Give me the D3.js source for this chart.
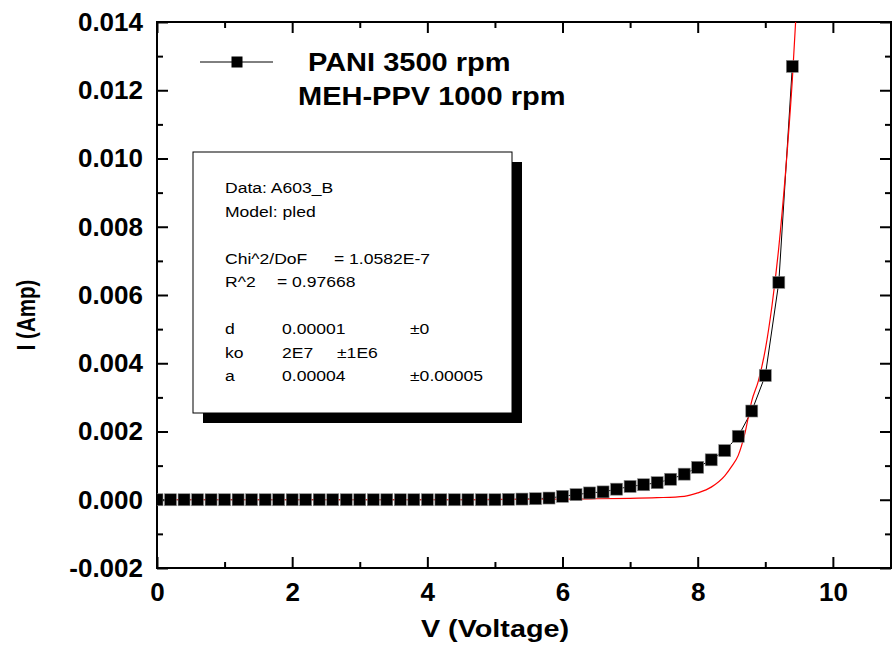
<!DOCTYPE html>
<html>
<head>
<meta charset="utf-8">
<script src="https://cdn.jsdelivr.net/npm/d3@7/dist/d3.min.js"></script>
<style>
  body { margin: 0; background: #fff; }
  svg { display: block; font-family: "Liberation Sans", Arial, sans-serif; }
</style>
</head>
<body>
<svg id="canvas" width="893" height="649"></svg>
<script>
// measured points (V, I)
const voltage = [0, 0.2, 0.4, 0.6, 0.8, 1.0, 1.2, 1.4, 1.6, 1.8, 2.0, 2.2, 2.4, 2.6, 2.8, 3.0,
  3.2, 3.4, 3.6, 3.8, 4.0, 4.2, 4.4, 4.6, 4.8, 5.0, 5.2, 5.4, 5.6, 5.8, 6.0, 6.2, 6.4, 6.6,
  6.8, 7.0, 7.2, 7.4, 7.6, 7.8, 8.0, 8.2, 8.4, 8.6, 8.8, 9.0, 9.2, 9.4];
const current = [0, 0, 0, 0, 0, 0, 0, 0, 0, 0, 0, 0, 0, 0, 0, 0,
  0, 0, 0, 0, 0, 0, 0, 0, 0, 0, 0.00001, 0.00002, 0.00003, 0.00005, 0.0001, 0.00015, 0.0002, 0.00023,
  0.00031, 0.00039, 0.00044, 0.0005, 0.0006, 0.00075, 0.00095, 0.00117, 0.00144, 0.00186, 0.0026, 0.00364, 0.00637, 0.0127];

// fitted curve (pled model)
const fitV = [0.2, 1, 2, 3, 4, 5, 6, 6.5, 7, 7.4, 7.8, 8.0, 8.2, 8.4, 8.5, 8.6, 8.7, 8.8, 8.9, 9.0, 9.1, 9.2, 9.3, 9.4, 9.5];
const fitI = [0, 0, 0, 0, 0, 0.00001, 0.00002, 0.00003, 0.00004, 0.00006, 0.0001, 0.0002, 0.00037, 0.0007, 0.00097, 0.0013, 0.00196, 0.0029, 0.0035, 0.0044, 0.0057, 0.0074, 0.0096, 0.0123, 0.0158];

const xMajor = [0, 2, 4, 6, 8, 10];
const xMinor = [1, 3, 5, 7, 9];
const yMajor = [-0.002, 0, 0.002, 0.004, 0.006, 0.008, 0.010, 0.012, 0.014];
const yMinor = [-0.001, 0.001, 0.003, 0.005, 0.007, 0.009, 0.011, 0.013];

const legendLines = ['PANI 3500 rpm', 'MEH-PPV 1000 rpm'];
const fitInfo = [
  ['Data: A603_B'],
  ['Model: pled'],
  [],
  ['Chi^2/DoF', '= 1.0582E-7'],
  ['R^2', '=  0.97668'],
  [],
  ['d', '0.00001', '±0'],
  ['ko', '2E7', '±1E6'],
  ['a', '0.00004', '±0.00005']
];

const svg = d3.select('#canvas');
const L = 157, R = 891, T = 22, B = 568;

const x = d3.scaleLinear().domain([0, 10.86]).range([L, R]);
const y = d3.scaleLinear().domain([-0.002, 0.014]).range([B, T]);

svg.append('defs').append('clipPath').attr('id', 'plotclip')
  .append('rect').attr('x', L).attr('y', T).attr('width', R - L).attr('height', B - T);

// stretched text helper (the original fonts are a bit wider than Arial)
let label = (g, px, py, txt, size, weight, sx, anchor, rot) => {
  return g.append('text')
    .attr('transform', `translate(${px},${py})` + (rot ? ` rotate(${rot})` : '') + ` scale(${sx},1)`)
    .attr('text-anchor', anchor || 'start')
    .attr('font-size', size)
    .attr('font-weight', weight)
    .attr('fill', '#000')
    .text(txt);
};

// axes: major + minor ticks, inward
let styleAxis = (g) => {
  g.select('.domain').remove();
  g.selectAll('line').attr('stroke', '#000').attr('stroke-width', 2);
};

svg.append('g').attr('transform', `translate(0,${B})`)
  .call(d3.axisBottom(x).tickValues(xMajor).tickSize(-11).tickPadding(15).tickFormat(d3.format('d')))
  .call(styleAxis)
  .selectAll('text').attr('font-size', 26).attr('font-weight', 'bold').attr('fill', '#000')
  .attr('font-family', '"Liberation Sans", Arial, sans-serif');
svg.append('g').attr('transform', `translate(0,${B})`)
  .call(d3.axisBottom(x).tickValues(xMinor).tickSize(-6).tickFormat(''))
  .call(styleAxis);
svg.append('g').attr('transform', `translate(0,${T})`)
  .call(d3.axisTop(x).tickValues(xMajor).tickSize(-11).tickFormat(''))
  .call(styleAxis);
svg.append('g').attr('transform', `translate(0,${T})`)
  .call(d3.axisTop(x).tickValues(xMinor).tickSize(-6).tickFormat(''))
  .call(styleAxis);

svg.append('g').attr('transform', `translate(${L},0)`)
  .call(d3.axisLeft(y).tickValues(yMajor).tickSize(-11).tickPadding(14).tickFormat(d => d.toFixed(3)))
  .call(styleAxis)
  .selectAll('text').attr('font-size', 26).attr('font-weight', 'bold').attr('fill', '#000')
  .attr('font-family', '"Liberation Sans", Arial, sans-serif');
svg.append('g').attr('transform', `translate(${L},0)`)
  .call(d3.axisLeft(y).tickValues(yMinor).tickSize(-6).tickFormat(''))
  .call(styleAxis);
svg.append('g').attr('transform', `translate(${R},0)`)
  .call(d3.axisRight(y).tickValues(yMajor).tickSize(-11).tickFormat(''))
  .call(styleAxis);
svg.append('g').attr('transform', `translate(${R},0)`)
  .call(d3.axisRight(y).tickValues(yMinor).tickSize(-6).tickFormat(''))
  .call(styleAxis);

// frame
svg.append('rect').attr('x', L).attr('y', T).attr('width', R - L).attr('height', B - T)
  .attr('fill', 'none').attr('stroke', '#000').attr('stroke-width', 2);

// axis titles
label(svg, 495, 637, 'V (Voltage)', 24, 'bold', 1.2, 'middle');
label(svg, 35, 315, 'I (Amp)', 25, 'bold', 0.82, 'middle', -90);

// fit info box with drop shadow
const box = { x: 193, y: 152, w: 319, h: 261 };
svg.append('rect').attr('x', box.x + 10).attr('y', box.y + 10).attr('width', box.w).attr('height', box.h)
  .attr('fill', '#000');
svg.append('rect').attr('x', box.x).attr('y', box.y).attr('width', box.w).attr('height', box.h)
  .attr('fill', '#fff').attr('stroke', '#000').attr('stroke-width', 1);

const rowY = d3.scaleLinear().domain([0, fitInfo.length - 1]).range([193, 381]);
const colX = [
  [225], [225], [], [225, 334], [225, 277], [], [225, 282, 410], [225, 282, 337], [225, 282, 410]
];
const boxText = svg.append('g');
fitInfo.forEach((row, i) => {
  row.forEach((t, j) => label(boxText, colX[i][j], rowY(i), t, 15, 'normal', 1.17));
});

// data line + fit
const dataPts = voltage.map((v, i) => [v, current[i]]);
const fitPts = fitV.map((v, i) => [v, fitI[i]]);

const plot = svg.append('g').attr('clip-path', 'url(#plotclip)');

plot.append('path').datum(dataPts)
  .attr('d', d3.line().x(d => x(d[0])).y(d => y(d[1])))
  .attr('fill', 'none').attr('stroke', '#000').attr('stroke-width', 1);

plot.append('path').datum(fitPts)
  .attr('d', d3.line().curve(d3.curveMonotoneX).x(d => x(d[0])).y(d => y(d[1])))
  .attr('fill', 'none').attr('stroke', '#ff0000').attr('stroke-width', 1.2);

const sq = 12;
plot.selectAll('rect.pt').data(dataPts).enter().append('rect')
  .attr('class', 'pt')
  .attr('x', d => x(d[0]) - sq / 2).attr('y', d => y(d[1]) - sq / 2)
  .attr('width', sq).attr('height', sq)
  .attr('fill', '#000').attr('stroke', '#888').attr('stroke-width', 0.6);

// legend
const lg = svg.append('g');
lg.append('line').attr('x1', 200).attr('x2', 273).attr('y1', 62).attr('y2', 62)
  .attr('stroke', '#000').attr('stroke-width', 1);
lg.append('rect').attr('x', 237 - 5.5).attr('y', 62 - 5.5).attr('width', 11).attr('height', 11).attr('fill', '#000');
label(lg, 308, 71, legendLines[0], 25, 'bold', 1.16);
label(lg, 298, 105, legendLines[1], 25, 'bold', 1.16);
</script>
</body>
</html>
